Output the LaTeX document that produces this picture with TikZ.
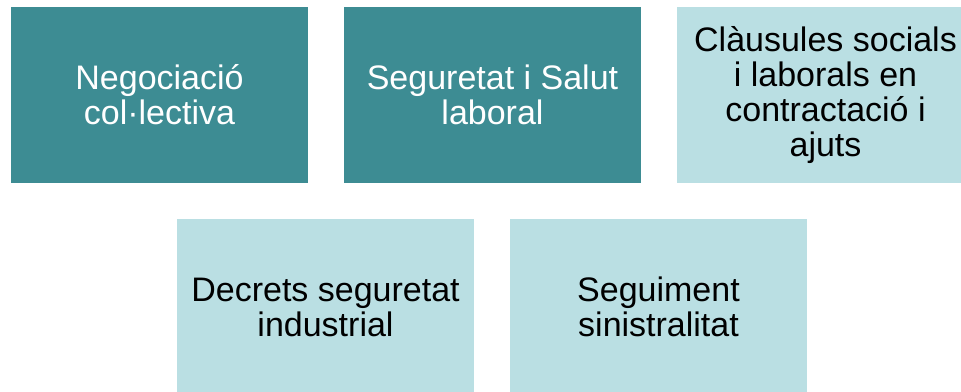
\documentclass[tikz,border=0pt]{standalone}
\usepackage{fontspec}
\setmainfont{Liberation Sans}
\definecolor{darkteal}{HTML}{3D8C93}
\definecolor{lightteal}{HTML}{BADFE3}
\begin{document}
\begin{tikzpicture}[x=1pt,y=-1pt,
  box/.style={minimum width=297pt,minimum height=176pt,inner sep=0pt,align=center,
    font=\fontsize{34}{35}\selectfont},
  darkbox/.style={box,fill=darkteal,text=white},
  lightbox/.style={box,fill=lightteal,text=black}]
\useasboundingbox (0,0) rectangle (961,391);
\clip (0,0) rectangle (961,391);
\fill[white] (0,0) rectangle (961,391);
\node[darkbox] (neg) at (159.5,95) {Negociació\\col·lectiva};
\node[darkbox] (seg) at (492.5,95) {Seguretat i Salut\\laboral};
\node[lightbox] (cla) at (825.5,95) {Clàusules socials\\i laborals en\\contractació i\\ajuts};
\node[lightbox] (dec) at (325.5,307) {Decrets seguretat\\industrial};
\node[lightbox] (sin) at (658.5,307) {Seguiment\\sinistralitat};
\end{tikzpicture}
\end{document}
